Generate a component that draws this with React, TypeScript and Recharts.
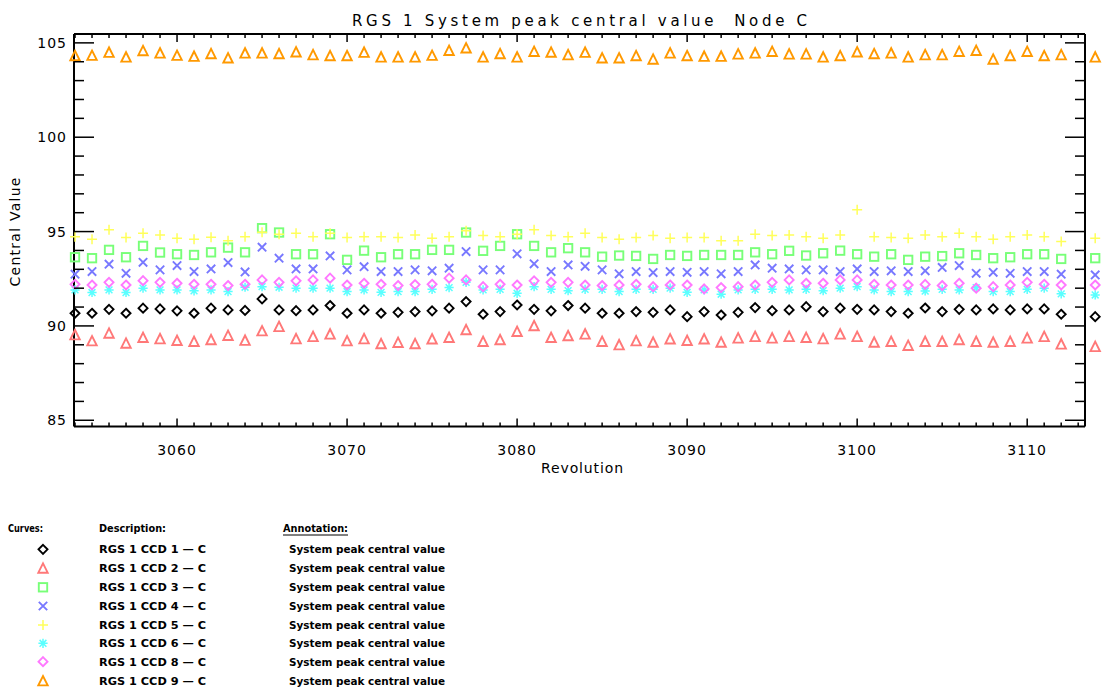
import { ScatterChart, Scatter, XAxis, YAxis } from 'recharts';

// Revolutions sampled (3113 is missing in the source plot)
const revolutions = [
  3054, 3055, 3056, 3057, 3058, 3059, 3060, 3061, 3062, 3063,
  3064, 3065, 3066, 3067, 3068, 3069, 3070, 3071, 3072, 3073,
  3074, 3075, 3076, 3077, 3078, 3079, 3080, 3081, 3082, 3083,
  3084, 3085, 3086, 3087, 3088, 3089, 3090, 3091, 3092, 3093,
  3094, 3095, 3096, 3097, 3098, 3099, 3100, 3101, 3102, 3103,
  3104, 3105, 3106, 3107, 3108, 3109, 3110, 3111, 3112, 3114,
];

const ccd1 = [
  90.67, 90.67, 90.88, 90.67, 90.94, 90.9, 90.8, 90.67, 90.94, 90.85,
  90.82, 91.43, 90.85, 90.81, 90.85, 91.08, 90.67, 90.85, 90.67, 90.72,
  90.76, 90.8, 90.94, 91.29, 90.62, 90.76, 91.11, 90.88, 90.8, 91.08,
  90.94, 90.67, 90.67, 90.76, 90.72, 90.85, 90.49, 90.76, 90.58, 90.72,
  90.97, 90.81, 90.85, 91.02, 90.76, 90.94, 90.88, 90.85, 90.76, 90.67,
  90.95, 90.76, 90.88, 90.85, 90.9, 90.85, 90.9, 90.9, 90.62, 90.49,
];
const ccd2 = [
  89.52, 89.2, 89.61, 89.08, 89.38, 89.31, 89.22, 89.17, 89.26, 89.49,
  89.23, 89.73, 89.96, 89.31, 89.43, 89.56, 89.2, 89.31, 89.05, 89.12,
  89.05, 89.3, 89.38, 89.79, 89.17, 89.26, 89.7, 90.0, 89.38, 89.47,
  89.56, 89.17, 88.99, 89.2, 89.13, 89.3, 89.22, 89.3, 89.13, 89.35,
  89.43, 89.35, 89.43, 89.38, 89.31, 89.56, 89.43, 89.13, 89.17, 88.96,
  89.17, 89.17, 89.26, 89.17, 89.13, 89.17, 89.35, 89.43, 89.03, 88.9,
];
const ccd3 = [
  93.64, 93.59, 94.03, 93.64, 94.24, 93.89, 93.8, 93.76, 93.9, 94.15,
  93.9, 95.18, 94.95, 93.8, 93.8, 94.86, 93.5, 93.99, 93.64, 93.8,
  93.8, 94.03, 94.03, 94.95, 93.98, 94.24, 94.86, 94.24, 93.9, 94.12,
  93.9, 93.67, 93.73, 93.71, 93.55, 93.76, 93.71, 93.76, 93.76, 93.76,
  93.9, 93.8, 93.98, 93.73, 93.85, 93.99, 93.8, 93.67, 93.8, 93.5,
  93.67, 93.7, 93.85, 93.76, 93.59, 93.64, 93.8, 93.8, 93.55, 93.59,
];
const ccd4 = [
  92.74, 92.88, 93.27, 92.79, 93.37, 92.97, 93.2, 92.88, 93.02, 93.36,
  92.86, 94.17, 93.59, 93.02, 93.02, 93.71, 92.97, 93.14, 92.88, 92.88,
  92.97, 92.92, 93.06, 93.94, 92.97, 92.97, 93.82, 93.29, 92.88, 93.23,
  93.16, 92.97, 92.76, 92.88, 92.83, 92.88, 92.84, 92.88, 92.76, 92.88,
  93.23, 93.06, 93.02, 92.97, 92.97, 92.88, 93.02, 92.88, 92.92, 92.88,
  92.92, 93.1, 93.2, 92.79, 92.84, 92.79, 92.88, 92.88, 92.74, 92.7,
];
const ccd5 = [
  94.73, 94.59, 95.09, 94.68, 94.91, 94.82, 94.65, 94.59, 94.7, 94.51,
  94.73, 94.96, 94.86, 94.91, 94.73, 94.91, 94.68, 94.73, 94.73, 94.68,
  94.82, 94.65, 94.73, 95.04, 94.79, 94.73, 94.86, 95.09, 94.79, 94.73,
  94.91, 94.68, 94.59, 94.68, 94.79, 94.65, 94.68, 94.68, 94.51, 94.51,
  94.86, 94.79, 94.82, 94.73, 94.65, 94.82, 96.15, 94.73, 94.68, 94.65,
  94.82, 94.73, 94.91, 94.73, 94.59, 94.73, 94.82, 94.73, 94.47, 94.65,
];
const ccd6 = [
  91.91, 91.77, 91.91, 91.77, 92.0, 91.91, 91.91, 91.86, 91.91, 91.82,
  92.05, 92.08, 92.05, 92.0, 92.0, 92.0, 91.82, 91.91, 91.78, 91.82,
  91.82, 91.94, 92.03, 92.31, 91.91, 91.94, 91.73, 92.08, 91.94, 91.87,
  91.94, 91.94, 91.82, 91.94, 91.94, 92.0, 91.78, 91.91, 91.68, 91.91,
  91.94, 91.94, 91.91, 91.94, 91.87, 92.0, 92.08, 91.91, 91.82, 91.82,
  91.85, 91.94, 91.91, 92.03, 91.82, 91.82, 91.94, 92.0, 91.7, 91.64,
];
const ccd8 = [
  92.21, 92.17, 92.31, 92.17, 92.4, 92.31, 92.26, 92.21, 92.21, 92.14,
  92.21, 92.44, 92.31, 92.39, 92.44, 92.53, 92.17, 92.26, 92.21, 92.14,
  92.19, 92.21, 92.53, 92.44, 92.08, 92.21, 92.17, 92.39, 92.31, 92.31,
  92.17, 92.14, 92.17, 92.21, 92.08, 92.17, 92.17, 91.96, 92.03, 92.08,
  92.17, 92.31, 92.44, 92.26, 92.26, 92.44, 92.44, 92.21, 92.17, 92.17,
  92.2, 92.14, 92.26, 92.0, 92.08, 92.17, 92.31, 92.21, 92.17, 92.17,
];
const ccd9 = [
  104.31, 104.33, 104.49, 104.24, 104.58, 104.45, 104.33, 104.28, 104.42, 104.19,
  104.45, 104.45, 104.42, 104.51, 104.36, 104.31, 104.31, 104.49, 104.24, 104.24,
  104.24, 104.33, 104.59, 104.72, 104.24, 104.42, 104.24, 104.54, 104.5, 104.36,
  104.49, 104.19, 104.19, 104.31, 104.13, 104.45, 104.31, 104.28, 104.28, 104.4,
  104.45, 104.54, 104.4, 104.4, 104.24, 104.31, 104.51, 104.42, 104.45, 104.24,
  104.36, 104.36, 104.54, 104.59, 104.13, 104.31, 104.54, 104.31, 104.36, 104.24,
];

const xMajorTicks = [3060, 3070, 3080, 3090, 3100, 3110];
const yMajorTicks = [85, 90, 95, 100, 105];
const xDomain = [3053.94, 3113.4];
const yDomain = [84.67, 105.47];

const xTicks = Array.from({ length: 60 }, (_, i) => 3054 + i);
const yTicks = Array.from({ length: 21 }, (_, i) => 85 + i);

const FONT = "'DejaVu Sans', sans-serif";

const series = [
  { name: 'RGS 1 CCD 1 — C', values: ccd1, kind: 'diamond', color: '#000000' },
  { name: 'RGS 1 CCD 2 — C', values: ccd2, kind: 'triangle', color: '#ff7878' },
  { name: 'RGS 1 CCD 3 — C', values: ccd3, kind: 'square', color: '#78ff78' },
  { name: 'RGS 1 CCD 4 — C', values: ccd4, kind: 'x', color: '#7878ff' },
  { name: 'RGS 1 CCD 5 — C', values: ccd5, kind: 'plus', color: '#ffff5a' },
  { name: 'RGS 1 CCD 6 — C', values: ccd6, kind: 'asterisk', color: '#5affff' },
  { name: 'RGS 1 CCD 8 — C', values: ccd8, kind: 'diamond', color: '#ff78ff' },
  { name: 'RGS 1 CCD 9 — C', values: ccd9, kind: 'triangle', color: '#ff9900' },
];

function Marker({ kind, color, cx, cy }: any) {
  const p = { fill: 'none', stroke: color, strokeWidth: 1.9 };
  if (cx == null || cy == null) return null;
  switch (kind) {
    case 'diamond':
      return <polygon {...p} points={`${cx},${cy - 4.5} ${cx + 4.5},${cy} ${cx},${cy + 4.5} ${cx - 4.5},${cy}`} />;
    case 'triangle':
      return <polygon {...p} points={`${cx - 4.7},${cy + 4.4} ${cx + 4.7},${cy + 4.4} ${cx},${cy - 5}`} />;
    case 'square':
      return <rect {...p} x={cx - 4.2} y={cy - 4.2} width={8.4} height={8.4} />;
    case 'x':
      return <path {...p} d={`M${cx - 4.2},${cy - 4.2}L${cx + 4.2},${cy + 4.2}M${cx - 4.2},${cy + 4.2}L${cx + 4.2},${cy - 4.2}`} />;
    case 'plus':
      return <path {...p} strokeWidth={1.5} d={`M${cx - 5},${cy}L${cx + 5},${cy}M${cx},${cy - 5}L${cx},${cy + 5}`} />;
    default:
      return (
        <path
          {...p}
          strokeWidth={1.5}
          d={`M${cx - 4.6},${cy}L${cx + 4.6},${cy}M${cx},${cy - 4.6}L${cx},${cy + 4.6}M${cx - 3.4},${cy - 3.4}L${cx + 3.4},${cy + 3.4}M${cx - 3.4},${cy + 3.4}L${cx + 3.4},${cy - 3.4}`}
        />
      );
  }
}

const tickText = { fontFamily: FONT, fontSize: 14, fill: '#000', letterSpacing: 1 };

function BottomTick({ x, y, payload }: any) {
  const major = xMajorTicks.includes(payload.value);
  return (
    <g>
      <line x1={x} x2={x} y1={y} y2={y - (major ? 8 : 4)} stroke="#000" strokeWidth={1.5} />
      {major && (
        <text x={x} y={y + 28} textAnchor="middle" {...tickText}>
          {payload.value}
        </text>
      )}
    </g>
  );
}

function TopTick({ x, y, payload }: any) {
  const major = xMajorTicks.includes(payload.value);
  return <line x1={x} x2={x} y1={y} y2={y + (major ? 8 : 4)} stroke="#000" strokeWidth={1.5} />;
}

function LeftTick({ x, y, payload }: any) {
  const major = yMajorTicks.includes(payload.value);
  return (
    <g>
      <line x1={x} x2={x + (major ? 20 : 10)} y1={y} y2={y} stroke="#000" strokeWidth={1.5} />
      {major && (
        <text x={x - 7} y={y + 5} textAnchor="end" {...tickText}>
          {payload.value}
        </text>
      )}
    </g>
  );
}

function RightTick({ x, y, payload }: any) {
  const major = yMajorTicks.includes(payload.value);
  return <line x1={x} x2={x - (major ? 20 : 10)} y1={y} y2={y} stroke="#000" strokeWidth={1.5} />;
}

const legendRows = [549.3, 568.3, 587.3, 606, 625, 643.3, 661.7, 681];

export default function App() {
  const axisLine = { stroke: '#000', strokeWidth: 2 };
  return (
    <div style={{ position: 'absolute', left: 0, top: 0, width: 1103, height: 693, background: '#fff' }}>
      <style>{`.recharts-surface g[clip-path] { clip-path: none !important; }`}</style>
      <ScatterChart width={1103} height={693} margin={{ top: 0, right: 0, bottom: 226.5, left: 0 }}>
        <XAxis
          xAxisId="b"
          type="number"
          dataKey="rev"
          domain={xDomain}
          allowDataOverflow
          ticks={xTicks}
          interval={0}
          tickSize={0}
          tickMargin={0}
          tickLine={false}
          tick={<BottomTick />}
          height={40}
          axisLine={axisLine}
        />
        <XAxis
          xAxisId="t"
          orientation="top"
          type="number"
          dataKey="rev"
          domain={xDomain}
          allowDataOverflow
          ticks={xTicks}
          interval={0}
          tickSize={0}
          tickMargin={0}
          tickLine={false}
          tick={<TopTick />}
          height={34}
          axisLine={axisLine}
        />
        <YAxis
          yAxisId="l"
          type="number"
          dataKey="v"
          domain={yDomain}
          allowDataOverflow
          ticks={yTicks}
          interval={0}
          tickSize={0}
          tickMargin={0}
          tickLine={false}
          tick={<LeftTick />}
          width={74}
          axisLine={axisLine}
        />
        <YAxis
          yAxisId="r"
          orientation="right"
          type="number"
          dataKey="v"
          domain={yDomain}
          allowDataOverflow
          ticks={yTicks}
          interval={0}
          tickSize={0}
          tickMargin={0}
          tickLine={false}
          tick={<RightTick />}
          width={18}
          axisLine={axisLine}
        />
        {series.map((s) => (
          <Scatter
            key={s.name}
            name={s.name}
            xAxisId="b"
            yAxisId="l"
            data={revolutions.map((rev, i) => ({ rev, v: s.values[i] }))}
            isAnimationActive={false}
            shape={(props: any) => <Marker kind={s.kind} color={s.color} cx={props.cx} cy={props.cy} />}
          />
        ))}
      </ScatterChart>
      <svg
        width={1103}
        height={693}
        style={{ position: 'absolute', left: 0, top: 0, pointerEvents: 'none' }}
      >
        <text
          x={579.5}
          y={26}
          textAnchor="middle"
          fontFamily={FONT}
          fontSize={15}
          textLength={455}
          lengthAdjust="spacing"
          style={{ whiteSpace: 'pre' }}
        >
          {'RGS 1 System peak central value  Node C'}
        </text>
        <text x={582} y={473} textAnchor="middle" fontFamily={FONT} fontSize={14} textLength={82} lengthAdjust="spacing">
          Revolution
        </text>
        <text
          x={0}
          y={0}
          transform="translate(20,232) rotate(-90)"
          textAnchor="middle"
          fontFamily={FONT}
          fontSize={14}
          textLength={109}
          lengthAdjust="spacing"
        >
          Central Value
        </text>
        <g fontFamily={FONT} fontSize={10.5} fontWeight="bold">
          <text x={8} y={532} textLength={35} lengthAdjust="spacingAndGlyphs">Curves:</text>
          <text x={99} y={532} textLength={67} lengthAdjust="spacingAndGlyphs">Description:</text>
          <text x={283} y={532} textLength={65} lengthAdjust="spacingAndGlyphs">Annotation:</text>
          <line x1={283} x2={348} y1={535} y2={535} stroke="#000" strokeWidth={1} />
          {series.map((s, i) => (
            <g key={s.name}>
              <Marker kind={s.kind} color={s.color} cx={43} cy={legendRows[i]} />
              <text x={99} y={legendRows[i] + 4} textLength={107} lengthAdjust="spacingAndGlyphs">{s.name}</text>
              <text x={289} y={legendRows[i] + 4} textLength={156} lengthAdjust="spacingAndGlyphs">
                System peak central value
              </text>
            </g>
          ))}
        </g>
      </svg>
    </div>
  );
}
